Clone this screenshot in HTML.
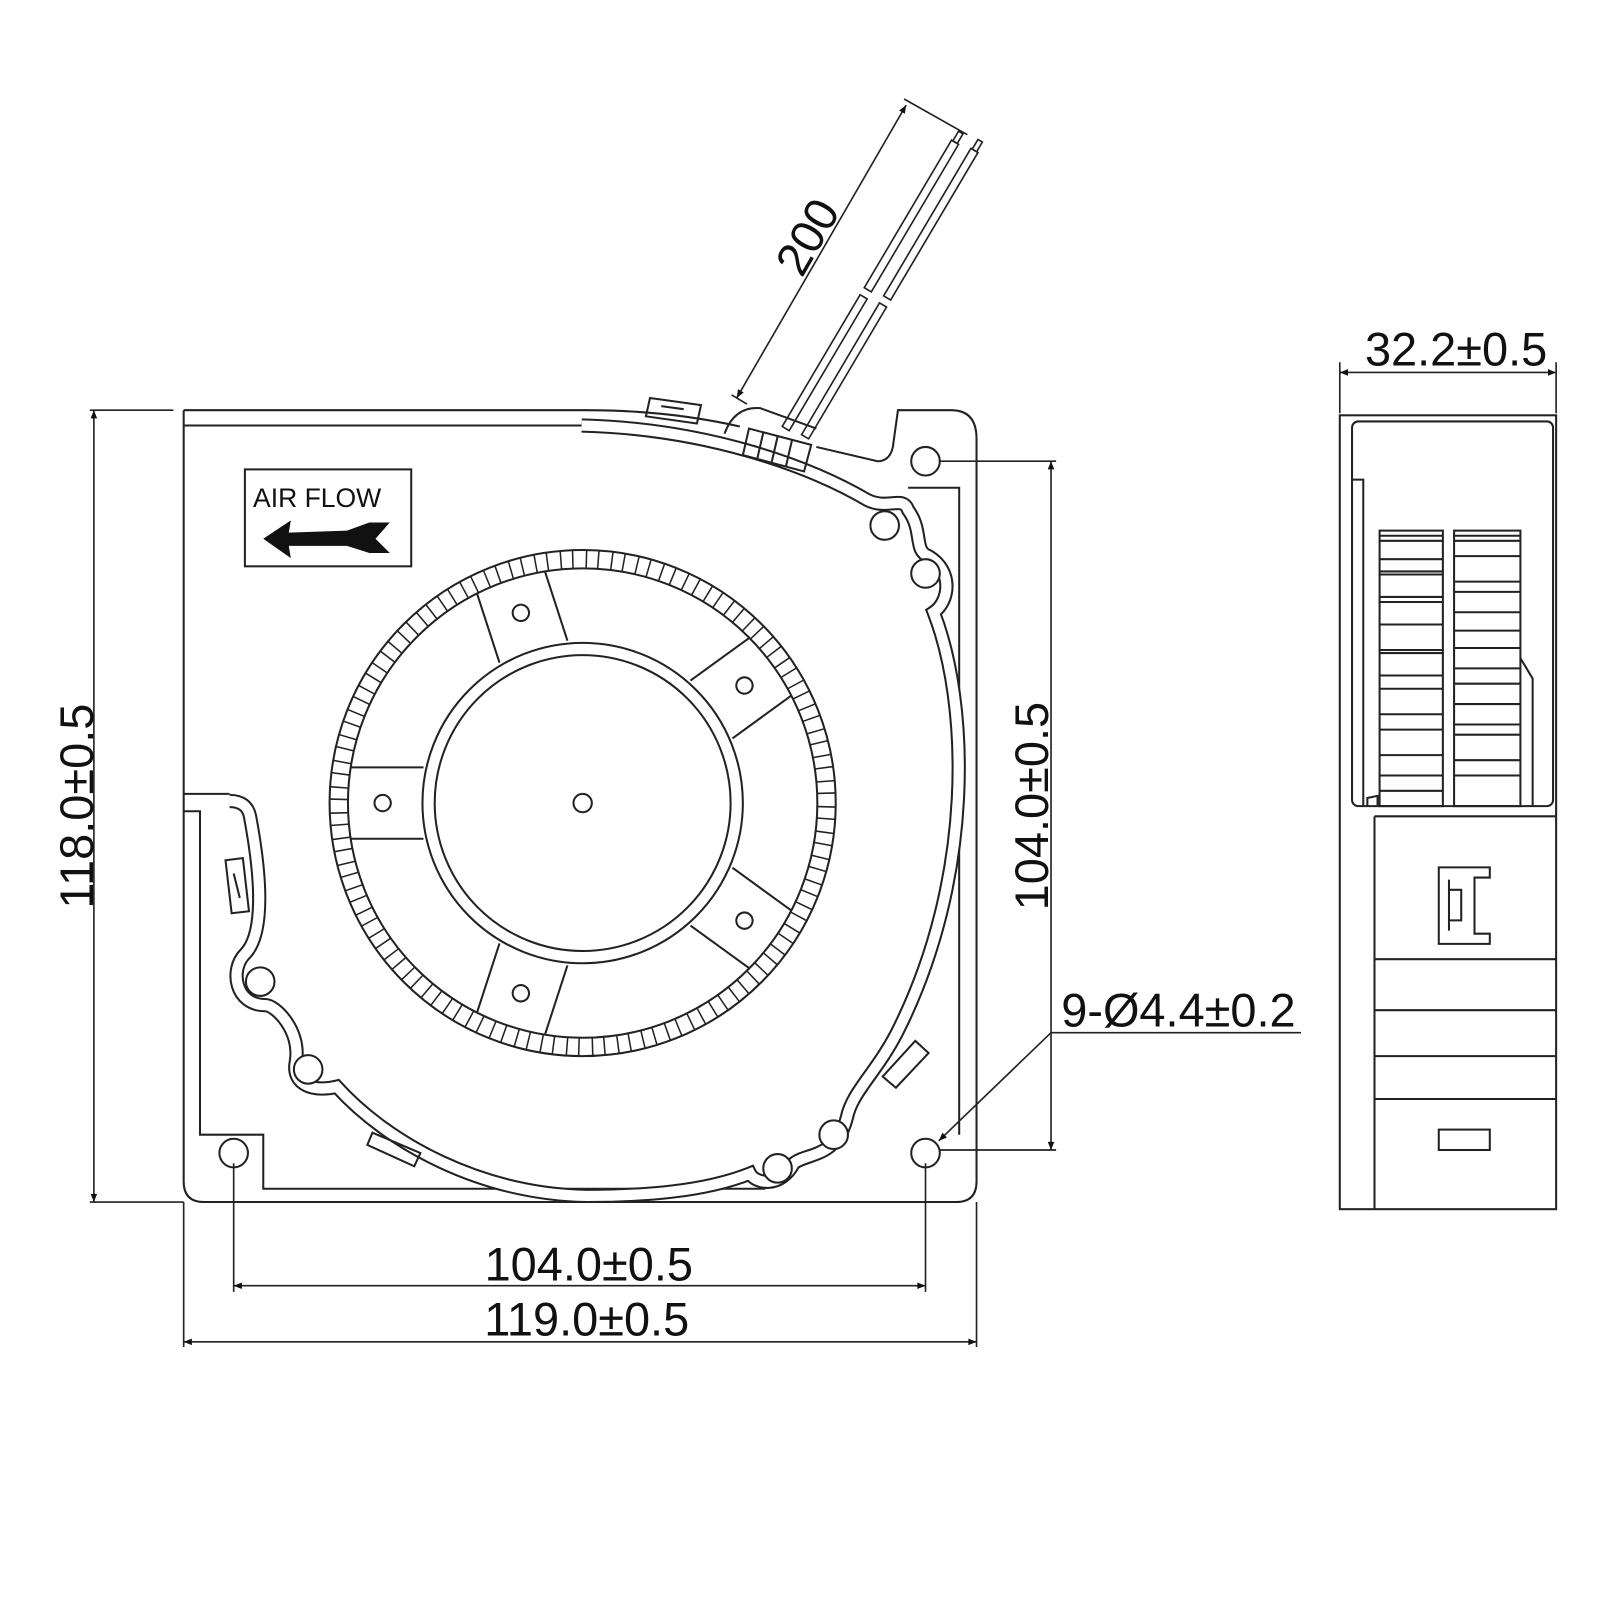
<!DOCTYPE html>
<html><head><meta charset="utf-8"><style>
html,body{margin:0;padding:0;background:#fff;}
svg{display:block}
text{font-family:"Liberation Sans",Arial,sans-serif;fill:#111}
</style></head><body>
<svg width="1600" height="1600" viewBox="0 0 1568 1568" xmlns="http://www.w3.org/2000/svg">
<defs>
<marker id="ar" viewBox="0 0 10 10" refX="10" refY="5" markerWidth="14" markerHeight="8" orient="auto-start-reverse" markerUnits="userSpaceOnUse"><path d="M0,1 L10,5 L0,9 z" fill="#111"/></marker>
<line id="tk" x1="801" y1="784" x2="819" y2="784" stroke="#222" stroke-width="1.5"/>
<g id="tk2"><use href="#tk" transform="rotate(-1.6 571 787)"/><use href="#tk" transform="rotate(1.6 571 787)"/></g>
<g id="sp"><line x1="727" y1="752" x2="798" y2="752"/><line x1="727" y1="822" x2="798" y2="822"/><circle cx="767" cy="787" r="8"/></g>
<path id="scr" d="M570,417 C690,420 790,455 850,490 C870,500 885,485 890,500 C905,520 895,540 910,545 C935,560 930,590 915,600 C950,690 955,860 880,1010 C860,1050 835,1070 830,1095 C820,1135 790,1130 778,1140 C765,1165 740,1160 735,1150 C690,1168 630,1172 575,1172 C470,1170 380,1120 330,1065 C310,1070 285,1065 290,1040 C295,1010 270,985 260,985 C230,985 225,950 240,935 C255,920 260,880 245,800 Q242,785 225,785"/>
<g id="wire"><rect x="0" y="-4" width="150" height="8"/><rect x="158" y="-4" width="168" height="8"/><rect x="326" y="-2.5" width="11" height="5"/></g>
</defs>
<g fill="none" stroke="#222" stroke-width="2">
<path d="M180,402 L575,402 C640,402 690,410 725,418"/>
<path d="M800,438 L860,452 Q872,452 875,438 L880,402 L932,402 Q957,402 957,430 L957,1158 Q957,1178 937,1178 L200,1178 Q180,1178 180,1158 L180,402"/>
<path d="M180,417 L570,417"/>
<path d="M890,478 L940,478 L940,1112"/>
<path d="M180,795 L196,795 L196,1112 L258,1112 L258,1165 L750,1165"/>
<path d="M180,778 L225,778"/>
</g>
<g fill="none">
<use href="#scr" stroke="#222" stroke-width="14"/>
<use href="#scr" stroke="#fff" stroke-width="10"/>
</g>
<g fill="none" stroke="#222" stroke-width="2">
<path d="M710,425 Q720,398 745,400 L800,420"/>
<path d="M734,420 L795,436 L788,462 L728,446 Z M748,424 L742,450 M762,428 L756,454 M776,432 L770,458"/>
<path d="M637,390 L687,397 L683,415 L633,408 Z M648,398 L670,401"/>
<g transform="translate(770,420) rotate(-59.4)" stroke-width="1.6"><use href="#wire"/></g>
<g transform="translate(789,428) rotate(-59.4)" stroke-width="1.6"><use href="#wire"/></g>
<path d="M221,843 L238,841 L244,893 L227,895 Z M229,856 L235,880"/>
<path d="M865,1055 L897,1020 L910,1032 L878,1066 Z"/>
<path d="M365,1110 L412,1130 L406,1143 L360,1122 Z"/>
</g>
<g fill="#fff" stroke="#222" stroke-width="2">
<circle cx="907" cy="452" r="14"/><circle cx="867" cy="515" r="14"/><circle cx="907" cy="562" r="14"/>
<circle cx="255" cy="962" r="14"/><circle cx="302" cy="1048" r="14"/><circle cx="817" cy="1112" r="14"/>
<circle cx="762" cy="1145" r="14"/><circle cx="229" cy="1130" r="14"/><circle cx="907" cy="1130" r="14"/>
</g>
<g fill="none" stroke="#222" stroke-width="2">
<circle cx="571" cy="787" r="248"/><circle cx="571" cy="787" r="230"/>
<circle cx="571" cy="787" r="157"/><circle cx="571" cy="787" r="145"/>
<circle cx="571" cy="787" r="9"/>
<use href="#sp" transform="rotate(180 571 787)"/><use href="#sp" transform="rotate(-36 571 787)"/><use href="#sp" transform="rotate(36 571 787)"/><use href="#sp" transform="rotate(-108 571 787)"/><use href="#sp" transform="rotate(108 571 787)"/>
</g>
<g>
<use href="#tk2" transform="rotate(0 571 787)"/><use href="#tk2" transform="rotate(6 571 787)"/><use href="#tk2" transform="rotate(12 571 787)"/><use href="#tk2" transform="rotate(18 571 787)"/><use href="#tk2" transform="rotate(24 571 787)"/><use href="#tk2" transform="rotate(30 571 787)"/><use href="#tk2" transform="rotate(36 571 787)"/><use href="#tk2" transform="rotate(42 571 787)"/><use href="#tk2" transform="rotate(48 571 787)"/><use href="#tk2" transform="rotate(54 571 787)"/><use href="#tk2" transform="rotate(60 571 787)"/><use href="#tk2" transform="rotate(66 571 787)"/><use href="#tk2" transform="rotate(72 571 787)"/><use href="#tk2" transform="rotate(78 571 787)"/><use href="#tk2" transform="rotate(84 571 787)"/><use href="#tk2" transform="rotate(90 571 787)"/><use href="#tk2" transform="rotate(96 571 787)"/><use href="#tk2" transform="rotate(102 571 787)"/><use href="#tk2" transform="rotate(108 571 787)"/><use href="#tk2" transform="rotate(114 571 787)"/><use href="#tk2" transform="rotate(120 571 787)"/><use href="#tk2" transform="rotate(126 571 787)"/><use href="#tk2" transform="rotate(132 571 787)"/><use href="#tk2" transform="rotate(138 571 787)"/><use href="#tk2" transform="rotate(144 571 787)"/><use href="#tk2" transform="rotate(150 571 787)"/><use href="#tk2" transform="rotate(156 571 787)"/><use href="#tk2" transform="rotate(162 571 787)"/><use href="#tk2" transform="rotate(168 571 787)"/><use href="#tk2" transform="rotate(174 571 787)"/><use href="#tk2" transform="rotate(180 571 787)"/><use href="#tk2" transform="rotate(186 571 787)"/><use href="#tk2" transform="rotate(192 571 787)"/><use href="#tk2" transform="rotate(198 571 787)"/><use href="#tk2" transform="rotate(204 571 787)"/><use href="#tk2" transform="rotate(210 571 787)"/><use href="#tk2" transform="rotate(216 571 787)"/><use href="#tk2" transform="rotate(222 571 787)"/><use href="#tk2" transform="rotate(228 571 787)"/><use href="#tk2" transform="rotate(234 571 787)"/><use href="#tk2" transform="rotate(240 571 787)"/><use href="#tk2" transform="rotate(246 571 787)"/><use href="#tk2" transform="rotate(252 571 787)"/><use href="#tk2" transform="rotate(258 571 787)"/><use href="#tk2" transform="rotate(264 571 787)"/><use href="#tk2" transform="rotate(270 571 787)"/><use href="#tk2" transform="rotate(276 571 787)"/><use href="#tk2" transform="rotate(282 571 787)"/><use href="#tk2" transform="rotate(288 571 787)"/><use href="#tk2" transform="rotate(294 571 787)"/><use href="#tk2" transform="rotate(300 571 787)"/><use href="#tk2" transform="rotate(306 571 787)"/><use href="#tk2" transform="rotate(312 571 787)"/><use href="#tk2" transform="rotate(318 571 787)"/><use href="#tk2" transform="rotate(324 571 787)"/><use href="#tk2" transform="rotate(330 571 787)"/><use href="#tk2" transform="rotate(336 571 787)"/><use href="#tk2" transform="rotate(342 571 787)"/><use href="#tk2" transform="rotate(348 571 787)"/><use href="#tk2" transform="rotate(354 571 787)"/>
</g>
<rect x="240" y="460" width="163" height="95" fill="none" stroke="#222" stroke-width="2"/>
<text x="248" y="497" font-size="26">AIR FLOW</text>
<path d="M258,528 L285,510 L283,522 L340,520 L362,512 L382,512 L368,528 L382,542 L362,542 L340,535 L283,535 L285,547 Z" fill="#111"/>
<g fill="none" stroke="#222" stroke-width="1.6">
<path d="M88,402 L170,402 M88,1178 L180,1178"/>
<line x1="92" y1="402" x2="92" y2="1178" marker-start="url(#ar)" marker-end="url(#ar)"/>
<path d="M920,452 L1035,452 M920,1127 L1035,1127"/>
<line x1="1030" y1="452" x2="1030" y2="1127" marker-start="url(#ar)" marker-end="url(#ar)"/>
<path d="M229,1140 L229,1266 M907,1140 L907,1266 M180,1178 L180,1320 M957,1178 L957,1320"/>
<line x1="229" y1="1260" x2="907" y2="1260" marker-start="url(#ar)" marker-end="url(#ar)"/>
<line x1="180" y1="1315" x2="957" y2="1315" marker-start="url(#ar)" marker-end="url(#ar)"/>
<path d="M1275,1012 L1030,1012"/>
<line x1="1030" y1="1012" x2="920" y2="1118" marker-end="url(#ar)"/>
<path d="M1313,355 L1313,405 M1525,355 L1525,405"/>
<line x1="1313" y1="365" x2="1525" y2="365" marker-start="url(#ar)" marker-end="url(#ar)"/>
<path d="M717,387 L732,396 M886,97 L948,132"/>
<line x1="722" y1="390" x2="888" y2="103" marker-start="url(#ar)" marker-end="url(#ar)"/>
</g>
<g font-size="46">
<text transform="translate(91,790) rotate(-90)" text-anchor="middle">118.0±0.5</text>
<text transform="translate(1027,790) rotate(-90)" text-anchor="middle">104.0±0.5</text>
<text x="577" y="1255" text-anchor="middle">104.0±0.5</text>
<text x="575" y="1309" text-anchor="middle">119.0±0.5</text>
<text x="1040" y="1006">9-Ø4.4±0.2</text>
<text x="1427" y="358" text-anchor="middle">32.2±0.5</text>
<text transform="translate(805,240) rotate(-60)" text-anchor="middle">200</text>
</g>
<g fill="none" stroke="#222" stroke-width="2">
<rect x="1313" y="407" width="212" height="778"/>
<rect x="1325" y="413" width="197" height="377" rx="6"/>
<path d="M1325,470 L1336,470 L1336,790"/>
<path d="M1347,800 L1525,800 M1347,800 L1347,1185 M1347,940 L1525,940 M1347,990 L1525,990 M1347,1035 L1525,1035 M1347,1077 L1525,1077"/>
<rect x="1352" y="520" width="62" height="270"/><rect x="1425" y="520" width="65" height="270"/>
<path d="M1352,525 L1414,525 M1352,530 L1414,530 M1352,548 L1414,548 M1352,560 L1414,560 M1352,563 L1414,563 M1352,585 L1414,585 M1352,590 L1414,590 M1352,612 L1414,612 M1352,637 L1414,637 M1352,640 L1414,640 M1352,662 L1414,662 M1352,675 L1414,675 M1352,700 L1414,700 M1352,715 L1414,715 M1352,740 L1414,740 M1352,760 L1414,760 M1352,775 L1414,775"/>
<path d="M1425,525 L1490,525 M1425,530 L1490,530 M1425,545 L1490,545 M1425,570 L1490,570 M1425,580 L1490,580 M1425,600 L1490,600 M1425,618 L1490,618 M1425,635 L1490,635 M1425,655 L1490,655 M1425,670 L1490,670 M1425,690 L1490,690 M1425,710 L1490,710 M1425,720 L1490,720 M1425,745 L1490,745 M1425,760 L1490,760 M1490,645 L1502,665 L1502,790"/>
<path d="M1340,790 L1340,782 L1350,780 L1350,790"/>
<path d="M1410,850 L1460,850 L1460,860 L1445,860 L1445,915 L1460,915 L1460,925 L1410,925 Z M1420,862 L1420,912 M1420,872 L1432,872 L1432,902 L1420,902"/>
<rect x="1410" y="1107" width="50" height="20"/>
</g>
</svg>
</body></html>
